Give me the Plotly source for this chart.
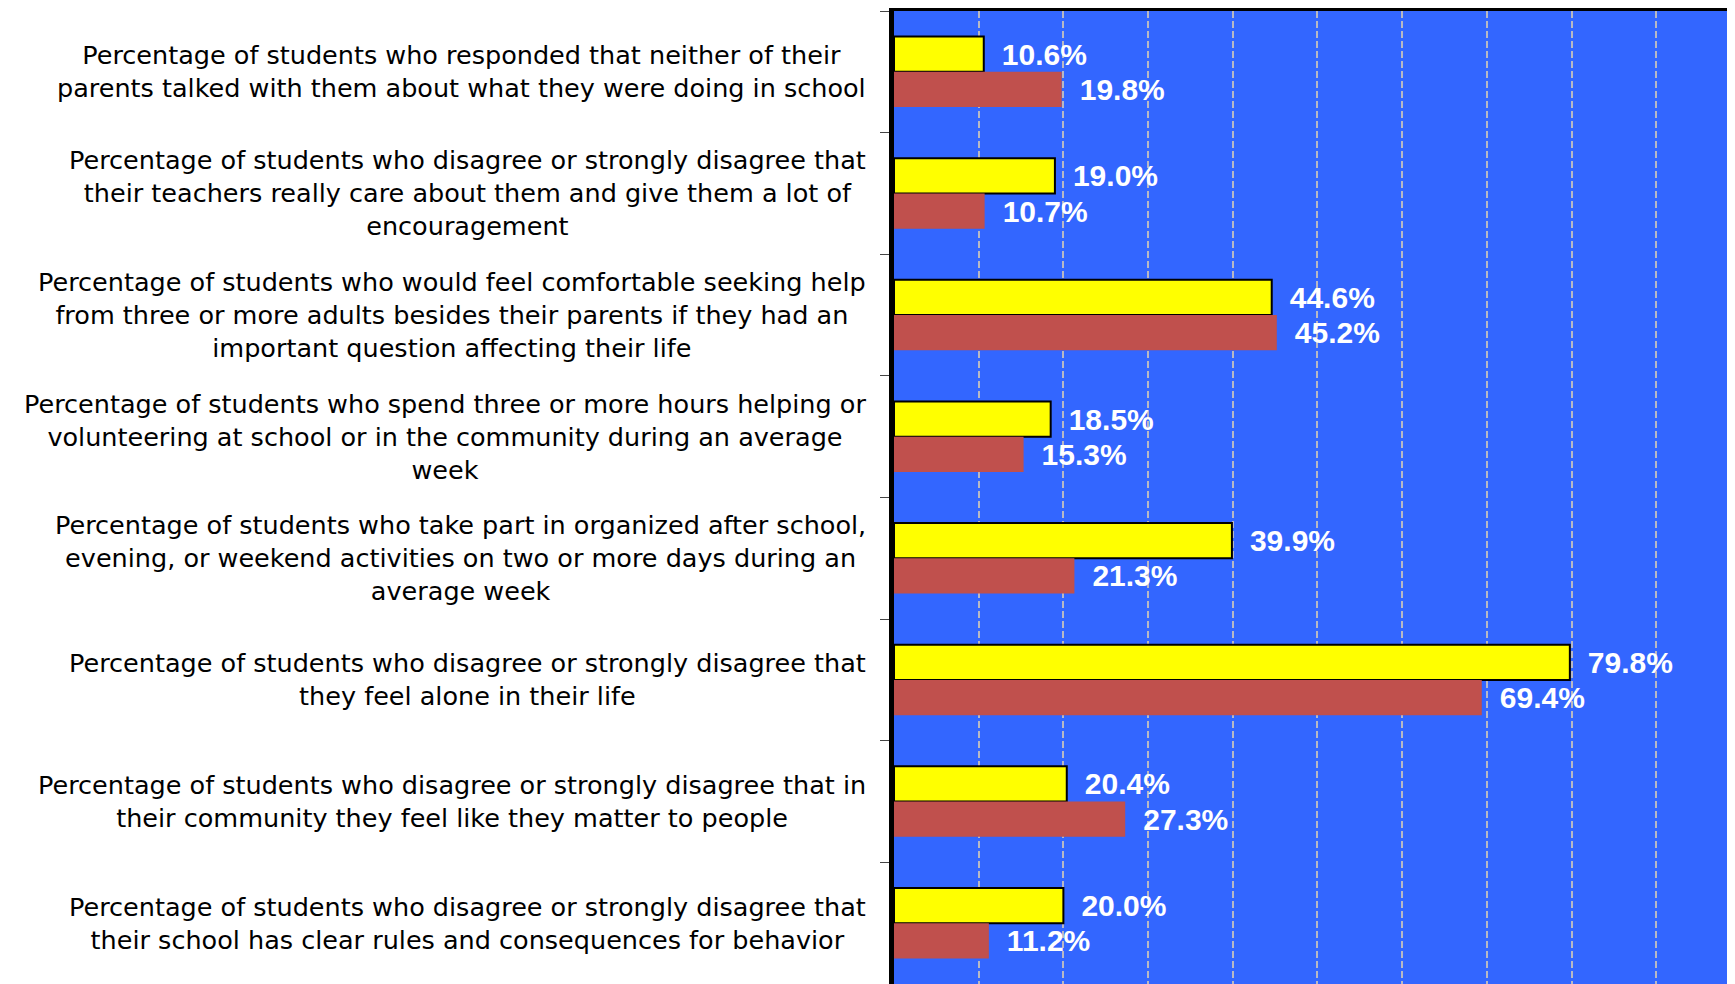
import plotly.graph_objects as go

categories = [
    "Percentage of students who responded that neither of their<br>parents talked with them about what they were doing in school",
    "Percentage of students who disagree or strongly disagree that<br>their teachers really care about them and give them a lot of<br>encouragement",
    "Percentage of students who would feel comfortable seeking help<br>from three or more adults besides their parents if they had an<br>important question affecting their life",
    "Percentage of students who spend three or more hours helping or<br>volunteering at school or in the community during an average<br>week",
    "Percentage of students who take part in organized after school,<br>evening, or weekend activities on two or more days during an<br>average week",
    "Percentage of students who disagree or strongly disagree that<br>they feel alone in their life",
    "Percentage of students who disagree or strongly disagree that in<br>their community they feel like they matter to people",
    "Percentage of students who disagree or strongly disagree that<br>their school has clear rules and consequences for behavior",
]
yellow_values = [10.6, 19.0, 44.6, 18.5, 39.9, 79.8, 20.4, 20.0]
red_values = [19.8, 10.7, 45.2, 15.3, 21.3, 69.4, 27.3, 11.2]

FONT = "Liberation Sans, Arial, sans-serif"
LABEL_FONT = "DejaVu Sans, sans-serif"
label_tpl = "\u2002<b>%{x:.1f}%</b>"

fig = go.Figure()
fig.add_trace(go.Bar(
    y=categories, x=yellow_values, orientation="h", name="yellow",
    marker={"color": "#FFFF00", "line": {"color": "#000000", "width": 2}},
    texttemplate=label_tpl, textposition="outside", cliponaxis=False,
    constraintext="none",
    textfont={"family": FONT, "size": 30, "color": "#FFFFFF"},
))
fig.add_trace(go.Bar(
    y=categories, x=red_values, orientation="h", name="red",
    marker={"color": "#C0504D", "line": {"width": 0}},
    texttemplate=label_tpl, textposition="outside", cliponaxis=False,
    constraintext="none",
    textfont={"family": FONT, "size": 30, "color": "#FFFFFF"},
))

# category labels, centred lines (tick labels can only be right-aligned)
for cat in categories:
    fig.add_annotation(
        x=0, xref="paper", y=cat, yref="y", text=cat, showarrow=False,
        xanchor="right", yanchor="middle", align="center", xshift=-26,
        font={"family": LABEL_FONT, "size": 25.5, "color": "#000000"},
    )

# page body has an 8px margin, so the figure is a bit smaller than the window
fig.update_layout(
    width=1727, height=976,
    margin={"l": 886, "r": 0, "t": 3, "b": 0},
    paper_bgcolor="#FFFFFF", plot_bgcolor="#3366FF",
    barmode="group", bargap=0.42, bargroupgap=0,
    showlegend=False,
    font={"family": FONT},
    xaxis={
        "side": "top", "range": [0, 99.3], "dtick": 10, "tick0": 0, "automargin": False,
        "showticklabels": False, "showline": True, "linecolor": "#000000", "linewidth": 5,
        "ticks": "outside", "ticklen": 6, "tickcolor": "#000000", "tickwidth": 1,
        "showgrid": True, "gridcolor": "#B8B8C4", "gridwidth": 2, "griddash": "7px,3px",
        "zeroline": False,
    },
    yaxis={
        "autorange": "reversed", "showticklabels": False, "automargin": False,
        "showline": True, "linecolor": "#000000", "linewidth": 5,
        "ticks": "outside", "ticklen": 9, "tickcolor": "#444444", "tickwidth": 1,
        "tickson": "boundaries", "showgrid": False, "zeroline": False,
    },
)

fig.write_html("out.html")
